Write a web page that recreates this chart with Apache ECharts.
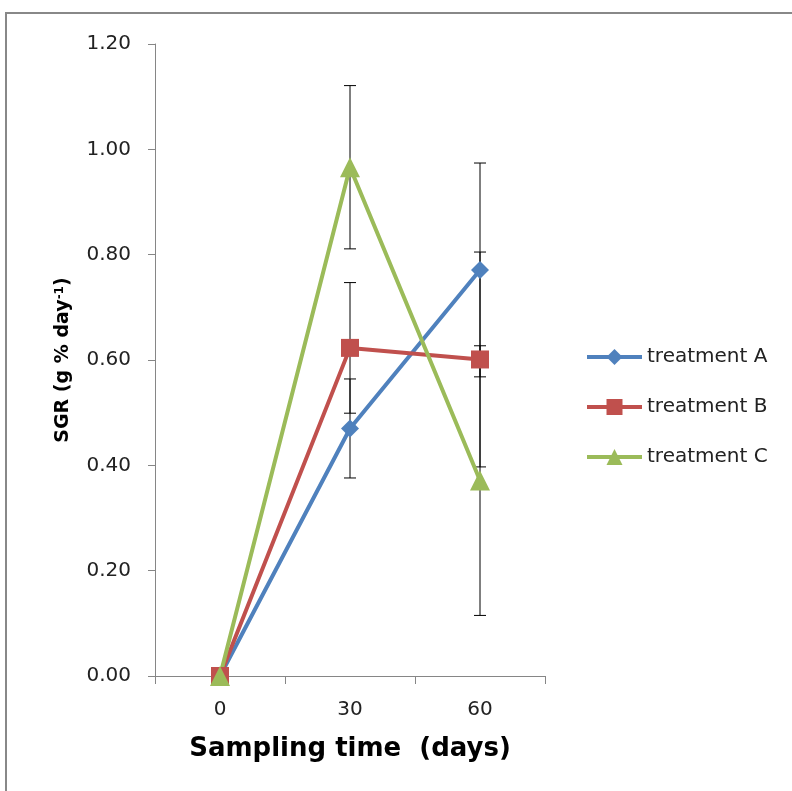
<!DOCTYPE html>
<html>
<head>
<meta charset="utf-8">
<script src="https://cdn.jsdelivr.net/npm/echarts@6/dist/echarts.min.js"></script>
<style>
html,body{margin:0;padding:0;background:#fff;}
#chart{width:792px;height:791px;}
</style>
</head>
<body>
<div id="chart"></div>
<script>
// sampling times (days)
var days = ['0', '30', '60'];
// mean SGR values
var treatA = [0, 0.470, 0.771];
var treatB = [0, 0.623, 0.601];
var treatC = [0, 0.966, 0.371];
// error (+/-)
var errA = [0, 0.094, 0.203];
var errB = [0, 0.124, 0.204];
var errC = [0, 0.155, 0.256];
var names = ['treatment A', 'treatment B', 'treatment C'];
var colors = ['#4F81BD', '#C0504D', '#9BBB59'];

function errData(vals, errs) {
    var out = [];
    for (var i = 0; i < vals.length; i++) {
        if (errs[i] > 0) out.push([i, vals[i] - errs[i], vals[i] + errs[i]]);
    }
    return out;
}

function renderErr(params, api) {
    var x = api.value(0);
    var lo = api.coord([x, api.value(1)]);
    var hi = api.coord([x, api.value(2)]);
    var cap = 6;
    var st = {stroke: '#000', lineWidth: 1};
    return {
        type: 'group',
        children: [
            {type: 'line', shape: {x1: lo[0], y1: lo[1], x2: hi[0], y2: hi[1]}, style: st},
            {type: 'line', shape: {x1: lo[0] - cap, y1: lo[1], x2: lo[0] + cap, y2: lo[1]}, style: st},
            {type: 'line', shape: {x1: hi[0] - cap, y1: hi[1], x2: hi[0] + cap, y2: hi[1]}, style: st}
        ]
    };
}

var chart = echarts.init(document.getElementById('chart'));

var lineSeries = function (name, data, color, symbol, size) {
    return {
        name: name,
        type: 'line',
        data: data,
        symbol: symbol,
        symbolSize: size,
        z: 3,
        lineStyle: {width: 4, color: color},
        itemStyle: {color: color},
        emphasis: {disabled: true}
    };
};

var option = {
    animation: false,
    graphic: [{
        type: 'rect',
        shape: {x: 6, y: 13, width: 820, height: 820},
        style: {fill: 'none', stroke: '#888', lineWidth: 2},
        silent: true
    }],
    grid: {left: 155, top: 44, right: 247, bottom: 115},
    legend: {
        orient: 'vertical',
        left: 585,
        top: 347,
        padding: 0,
        itemWidth: 55,
        itemHeight: 20,
        itemGap: 30,
        data: names,
        lineStyle: {width: 4},
        textStyle: {fontFamily: 'DejaVu Sans', fontSize: 20, color: '#222'}
    },
    xAxis: {
        type: 'category',
        data: days,
        boundaryGap: true,
        axisLine: {lineStyle: {color: '#868686', width: 1}},
        axisTick: {show: true, length: 8, inside: false, lineStyle: {color: '#868686'}},
        axisLabel: {fontFamily: 'DejaVu Sans', fontSize: 20, color: '#222', margin: 24},
        name: 'Sampling time  (days)',
        nameLocation: 'middle',
        nameGap: 60,
        nameTextStyle: {fontFamily: 'DejaVu Sans', fontWeight: 'bold', fontSize: 26, color: '#000'}
    },
    yAxis: {
        type: 'value',
        min: 0,
        max: 1.2,
        interval: 0.2,
        splitLine: {show: false},
        axisLine: {show: true, lineStyle: {color: '#868686', width: 1}},
        axisTick: {show: true, length: 7, lineStyle: {color: '#868686'}},
        axisLabel: {
            fontFamily: 'DejaVu Sans', fontSize: 20, color: '#222', margin: 24,
            formatter: function (v) { return v.toFixed(2); }
        },
        name: '{t|SGR (g % day}{s|-1}{t|)}',
        nameLocation: 'middle',
        nameGap: 82,
        nameTextStyle: {
            rich: {
                t: {fontFamily: 'DejaVu Sans', fontWeight: 'bold', fontSize: 19, color: '#000'},
                s: {fontFamily: 'DejaVu Sans', fontWeight: 'bold', fontSize: 12, color: '#000', verticalAlign: 'top', lineHeight: 19, padding: [0, 0, 8, 0]}
            }
        }
    },
    series: [
        {type: 'custom', name: 'errA', renderItem: renderErr, data: errData(treatA, errA), z: 1, silent: true},
        {type: 'custom', name: 'errB', renderItem: renderErr, data: errData(treatB, errB), z: 1, silent: true},
        {type: 'custom', name: 'errC', renderItem: renderErr, data: errData(treatC, errC), z: 1, silent: true},
        lineSeries(names[0], treatA, colors[0], 'diamond', 18),
        lineSeries(names[1], treatB, colors[1], 'rect', 18),
        lineSeries(names[2], treatC, colors[2], 'triangle', 20)
    ]
};
chart.setOption(option);
</script>
</body>
</html>
